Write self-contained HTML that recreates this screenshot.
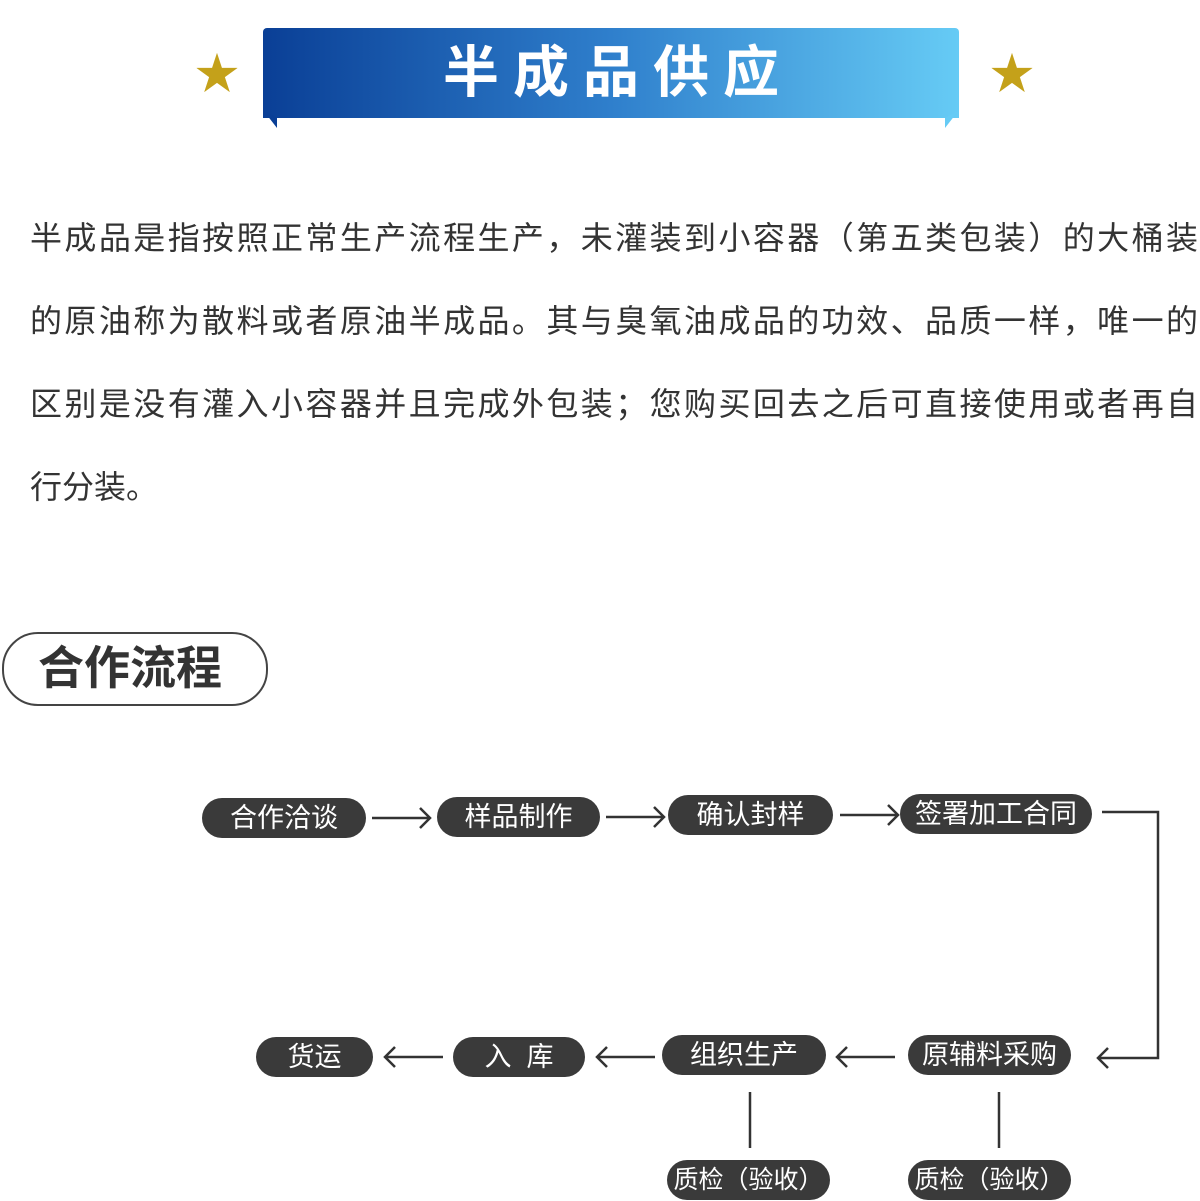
<!DOCTYPE html>
<html><head><meta charset="utf-8"><style>
body{margin:0;width:1200px;height:1201px;position:relative;background:#fff;overflow:hidden;font-family:"Liberation Sans","Noto Sans CJK SC",sans-serif;}
.ban{position:absolute;left:263px;top:28px;width:696px;height:90px;background:linear-gradient(90deg,#0a3f96,#2f7fcc 50%,#66cbf5);border-radius:4px 4px 0 0;}
.ban span{position:absolute;left:14px;right:0;top:10px;text-align:center;color:#fff;font-size:56px;font-weight:bold;letter-spacing:14px;line-height:70px;}
.star{position:absolute;color:#c4a11a;font-size:44px;line-height:44px;}
.p{position:absolute;left:30px;width:1168px;font-size:32px;color:#333;text-align:justify;text-align-last:justify;line-height:40px;}
.pill{position:absolute;left:2px;top:632px;width:262px;height:70px;border:2px solid #444;border-radius:36px;}
.pill span{position:absolute;left:34px;top:6px;font-size:46px;font-weight:bold;color:#333;line-height:56px;}
.n{position:absolute;height:40px;background:#3a3a3a;border-radius:20px;color:#fff;font-size:27px;line-height:40px;text-align:center;white-space:nowrap;}
</style></head><body>
<div class="ban"><span>半成品供应</span></div>
<svg style="position:absolute;left:0;top:0" width="1200" height="140"><polygon points="263,110 277,118 277,128" fill="#0a3f96"/><polygon points="959,110 945,118 945,128" fill="#66cbf5"/></svg>
<div class="star" style="left:195px;top:53px">★</div>
<div class="star" style="left:990px;top:53px">★</div>
<div class="p" style="top:218px">半成品是指按照正常生产流程生产，未灌装到小容器（第五类包装）的大桶装</div>
<div class="p" style="top:301px">的原油称为散料或者原油半成品。其与臭氧油成品的功效、品质一样，唯一的</div>
<div class="p" style="top:384px">区别是没有灌入小容器并且完成外包装；您购买回去之后可直接使用或者再自</div>
<div class="p" style="top:467px;text-align-last:left">行分装。</div>
<div class="pill"><span>合作流程</span></div>
<div class="n" style="left:202px;top:798px;width:164px">合作洽谈</div>
<div class="n" style="left:437px;top:797px;width:163px">样品制作</div>
<div class="n" style="left:668px;top:795px;width:165px">确认封样</div>
<div class="n" style="left:900px;top:794px;width:192px">签署加工合同</div>
<div class="n" style="left:256px;top:1037px;width:117px">货运</div>
<div class="n" style="left:453px;top:1037px;width:132px">入&nbsp;&nbsp;库</div>
<div class="n" style="left:662px;top:1035px;width:164px">组织生产</div>
<div class="n" style="left:908px;top:1035px;width:163px">原辅料采购</div>
<div class="n" style="left:667px;top:1160px;width:163px;font-size:25px">质检（验收）</div>
<div class="n" style="left:908px;top:1160px;width:163px;font-size:25px">质检（验收）</div>
<svg style="position:absolute;left:0;top:0" width="1200" height="1201" fill="none" stroke="#333" stroke-width="2.5">
<path d="M372 818H430M420 808L430 818L420 828"/>
<path d="M606 817H664M654 807L664 817L654 827"/>
<path d="M840 815H898M888 805L898 815L888 825"/>
<path d="M1102 812H1158V1058H1098M1108 1048L1098 1058L1108 1068"/>
<path d="M895 1057H837M847 1047L837 1057L847 1067"/>
<path d="M655 1057H597M607 1047L597 1057L607 1067"/>
<path d="M443 1057H385M395 1047L385 1057L395 1067"/>
<path d="M750 1092V1148M999 1092V1148"/>
</svg>
</body></html>
